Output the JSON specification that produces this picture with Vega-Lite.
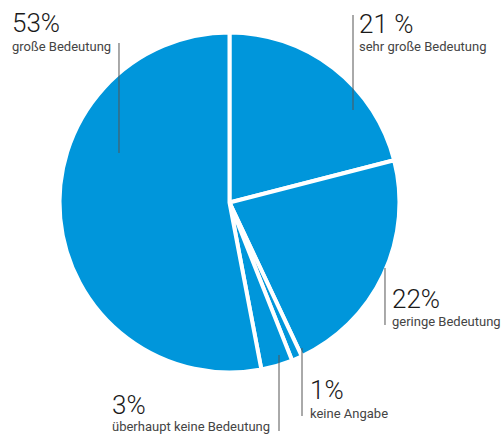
{
  "$schema": "https://vega.github.io/schema/vega-lite/v6.json",
  "width": 501,
  "height": 434,
  "autosize": {"type": "fit", "contains": "padding"},
  "padding": 0,
  "background": "white",
  "config": {"view": {"stroke": null}},
  "datasets": {
    "slices": [
      {"kategorie": "sehr große Bedeutung", "anteil": 21, "reihenfolge": 1},
      {"kategorie": "geringe Bedeutung", "anteil": 22, "reihenfolge": 2},
      {"kategorie": "keine Angabe", "anteil": 1, "reihenfolge": 3},
      {"kategorie": "überhaupt keine Bedeutung", "anteil": 3, "reihenfolge": 4},
      {"kategorie": "große Bedeutung", "anteil": 53, "reihenfolge": 5}
    ],
    "labels": [
      {"pct": "53%", "label": "große Bedeutung", "lx": -1.2794, "py": 1.0029, "ly": 0.8912, "rx": -0.65, "ry1": 0.9382, "ry2": 0.2912},
      {"pct": "21 %", "label": "sehr große Bedeutung", "lx": 0.7618, "py": 0.9971, "ly": 0.8912, "rx": 0.7265, "ry1": 1.1029, "ry2": 0.5441},
      {"pct": "22%", "label": "geringe Bedeutung", "lx": 0.9559, "py": -0.6206, "ly": -0.7265, "rx": 0.9147, "ry1": -0.3853, "ry2": -0.7206},
      {"pct": "1%", "label": "keine Angabe", "lx": 0.4735, "py": -1.1559, "ly": -1.2676, "rx": 0.4265, "ry1": -0.8559, "ry2": -1.2559},
      {"pct": "3%", "label": "überhaupt keine Bedeutung", "lx": -0.6912, "py": -1.2441, "ly": -1.3441, "rx": 0.2912, "ry1": -0.8971, "ry2": -1.3441}
    ]
  },
  "resolve": {"scale": {"x": "shared", "y": "shared"}},
  "layer": [
    {
      "data": {"name": "slices"},
      "mark": {"type": "arc", "outerRadius": 170, "stroke": "white", "strokeWidth": 4, "color": "#0096db"},
      "encoding": {
        "theta": {"field": "anteil", "type": "quantitative", "stack": true},
        "order": {"field": "reihenfolge", "type": "quantitative"},
        "x": {"datum": 0, "type": "quantitative", "scale": {"domain": [-1.35, 1.5971], "nice": false, "zero": false, "padding": 0}, "axis": null},
        "y": {"datum": 0, "type": "quantitative", "scale": {"domain": [-1.3618, 1.1912], "nice": false, "zero": false, "padding": 0}, "axis": null}
      }
    },
    {
      "data": {"name": "labels"},
      "mark": {"type": "rule", "color": "#555555", "strokeWidth": 1},
      "encoding": {
        "x": {"field": "rx", "type": "quantitative", "axis": null},
        "y": {"field": "ry1", "type": "quantitative", "axis": null},
        "y2": {"field": "ry2"}
      }
    },
    {
      "data": {"name": "labels"},
      "mark": {"type": "text", "align": "left", "baseline": "alphabetic", "font": "Roboto", "fontWeight": 300, "fontSize": 26, "color": "#1a1a1a"},
      "encoding": {
        "x": {"field": "lx", "type": "quantitative", "axis": null},
        "y": {"field": "py", "type": "quantitative", "axis": null},
        "text": {"field": "pct"}
      }
    },
    {
      "data": {"name": "labels"},
      "mark": {"type": "text", "align": "left", "baseline": "alphabetic", "font": "Roboto", "fontWeight": 400, "fontSize": 13, "color": "#444444"},
      "encoding": {
        "x": {"field": "lx", "type": "quantitative", "axis": null},
        "y": {"field": "ly", "type": "quantitative", "axis": null},
        "text": {"field": "label"}
      }
    }
  ]
}
